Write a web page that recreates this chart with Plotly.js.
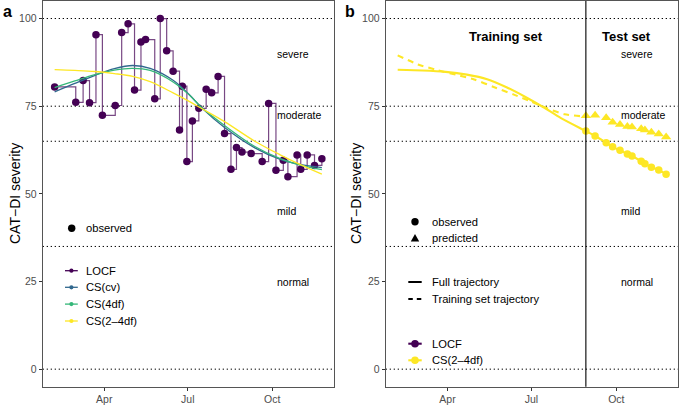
<!DOCTYPE html>
<html>
<head>
<meta charset="utf-8">
<script src="https://cdn.plot.ly/plotly-3.0.1.min.js"></script>
<style>html,body{margin:0;padding:0;background:#fff;}#chart{width:691px;height:406px;}</style>
</head>
<body>
<div id="chart"></div>
<script>
// ---------- data ----------
const obsDates = ['2019-02-06','2019-03-01','2019-03-09','2019-03-16','2019-03-23','2019-03-30','2019-04-13','2019-04-20','2019-04-27','2019-05-04','2019-05-11','2019-05-16','2019-05-26','2019-06-01','2019-06-08','2019-06-15','2019-06-22','2019-06-25','2019-06-30','2019-07-06','2019-07-13','2019-07-21','2019-07-27','2019-08-03','2019-08-10','2019-08-17','2019-08-23','2019-08-29','2019-09-08','2019-09-20','2019-09-27','2019-10-05','2019-10-13','2019-10-18','2019-10-28','2019-11-01','2019-11-08','2019-11-16','2019-11-24'];
const locfValues = [80.5,76.1,82.3,76.0,95.4,72.4,75.2,96.0,98.5,79.6,93.3,94.0,77.1,100.0,90.8,85.0,68.2,80.7,59.2,70.8,74.4,79.8,78.8,83.5,67.2,57.0,63.2,61.9,61.5,59.2,75.8,56.7,59.6,54.9,61.1,57.0,61.1,58.1,60.0];

const splineDates = ['2019-02-06','2019-02-28','2019-03-22','2019-04-12','2019-05-02','2019-05-21','2019-06-15','2019-07-03','2019-07-17','2019-08-10','2019-09-12','2019-10-09','2019-10-31','2019-11-24'];
const csCV   = [79.1,81.5,83.8,85.7,86.6,85.8,82.4,78.2,74.3,68.9,63.1,59.9,58.4,57.5];
const cs4df  = [80.3,82.2,84.0,85.3,85.8,85.2,81.9,78.1,74.4,69.5,63.5,60.1,58.2,56.9];
const cs24df = [85.4,85.2,84.9,84.3,83.5,82.0,78.8,76.3,74.2,70.6,65.0,61.2,58.4,55.6];

const fullDates  = ['2019-02-06','2019-03-05','2019-03-30','2019-04-22','2019-05-14','2019-06-04','2019-06-24','2019-07-14','2019-08-02','2019-08-29'];
const fullValues = [85.4,85.2,84.8,84.0,82.7,80.4,77.7,74.7,71.6,67.9];
const trainDates  = ['2019-02-06','2019-02-28','2019-03-21','2019-04-10','2019-04-30','2019-05-21','2019-06-12','2019-06-30','2019-07-18','2019-08-06','2019-08-29'];
const trainValues = [89.5,86.9,85.3,84.0,82.6,80.5,78.3,76.4,74.4,72.7,72.0];
const testDates = obsDates.slice(27);
const testObserved  = [67.9,66.5,64.6,63.4,62.4,61.4,60.8,59.3,58.6,57.6,56.8,55.6];
const testPredicted = [72.3,72.4,71.7,70.4,69.8,69.2,69.1,68.6,68.2,67.6,67.1,66.2];

const thresholds = [100,75,65,35,0];
const severityLabels = ['severe','moderate','mild','normal'];
const severityY = [90,72.5,45,25];
const severityX = '2019-10-04';

const xTickVals = ['2019-04-01','2019-07-01','2019-10-01'];
const xTickText = ['Apr','Jul','Oct'];
const yTickVals = [0,25,50,75,100];

const seriesNames = ['LOCF','CS(cv)','CS(4df)','CS(2–4df)'];
const seriesColors = ['#440154','#31688E','#35B779','#FDE725'];

// ---------- layout helpers ----------
const W = 691, H = 406;
const px = x => x / W;
const py = y => 1 - y / H;
const FONT = 'Liberation Sans, Arial, Helvetica, sans-serif';

const traces = [];
// Panel a
traces.push({x: obsDates, y: locfValues, xaxis:'x', yaxis:'y', mode:'lines', line:{shape:'hv', color:'rgba(68,1,84,0.72)', width:1.2}, hoverinfo:'skip'});
traces.push({x: obsDates, y: locfValues, xaxis:'x', yaxis:'y', mode:'markers', marker:{color:seriesColors[0], size:7.5}, hoverinfo:'skip'});
[csCV, cs4df, cs24df].forEach((vals, i) => {
  traces.push({x: splineDates, y: vals, xaxis:'x', yaxis:'y', mode:'lines', line:{shape:'spline', smoothing:1, color:seriesColors[i+1], width:1.3}, hoverinfo:'skip'});
});
// Panel b
traces.push({x: fullDates.concat(testDates.slice(1)), y: fullValues.concat(testObserved.slice(1)), xaxis:'x2', yaxis:'y2', mode:'lines', line:{shape:'spline', smoothing:0.6, color:seriesColors[3], width:2.1}, hoverinfo:'skip'});
traces.push({x: trainDates, y: trainValues, xaxis:'x2', yaxis:'y2', mode:'lines', line:{shape:'spline', smoothing:0.6, color:seriesColors[3], width:2.1, dash:'6px,5px'}, hoverinfo:'skip'});
traces.push({x: testDates, y: testObserved, xaxis:'x2', yaxis:'y2', mode:'markers', marker:{color:seriesColors[3], size:7.5, symbol:'circle'}, hoverinfo:'skip'});
traces.push({x: testDates, y: testPredicted, xaxis:'x2', yaxis:'y2', mode:'markers', marker:{color:seriesColors[3], size:9, symbol:'triangle-up'}, hoverinfo:'skip'});

const xRange = ['2019-01-24', '2019-12-07 05:00'];
function xAxis(domain, anchor){
  return {domain, anchor, type:'date', range:xRange, tickvals:xTickVals, ticktext:xTickText,
    ticks:'outside', ticklen:3, tickwidth:1, tickcolor:'#333', tickfont:{family:FONT, size:10.5, color:'#4d4d4d'},
    showline:true, mirror:true, linecolor:'#555', linewidth:1, showgrid:false, zeroline:false, automargin:false, fixedrange:true};
}
function yAxis(domain, anchor){
  return {domain, anchor, range:[-5,105], tickvals:yTickVals, ticks:'outside', ticklen:3, tickwidth:1, tickcolor:'#333',
    tickfont:{family:FONT, size:10.5, color:'#4d4d4d'}, showline:true, mirror:true, linecolor:'#555', linewidth:1,
    showgrid:false, zeroline:false, automargin:false, fixedrange:true};
}

const shapes = [];
[['x domain','y'],['x2 domain','y2']].forEach(([xr, yr]) => {
  thresholds.forEach(t => shapes.push({type:'line', xref:xr, yref:yr, x0:0, x1:1, y0:t, y1:t, layer:'below', line:{color:'#000', width:1, dash:'1.3px,2.7px'}}));
});
shapes.push({type:'line', xref:'x2', yref:'y2 domain', x0:testDates[0], x1:testDates[0], y0:0, y1:1, line:{color:'#000', width:1.1}});

const annotations = [];
function txt(text, x, y, opts){
  annotations.push(Object.assign({text, x:px(x), y:py(y), xref:'paper', yref:'paper', showarrow:false, xanchor:'left', yanchor:'middle', font:{family:FONT, size:11.2, color:'#000'}}, opts||{}));
}
function dot(cx, cy, r, color){
  shapes.push({type:'circle', xref:'paper', yref:'paper', x0:px(cx-r), x1:px(cx+r), y0:py(cy+r), y1:py(cy-r), fillcolor:color, line:{width:0}});
}
function seg(x0, x1, y, color, width, dash){
  shapes.push({type:'line', xref:'paper', yref:'paper', x0:px(x0), x1:px(x1), y0:py(y), y1:py(y), line:{color, width, dash:dash||'solid'}});
}

// severity labels
[['x','y'],['x2','y2']].forEach(([xr, yr]) => {
  severityLabels.forEach((lab, i) => annotations.push({text:lab, x:severityX, y:severityY[i], xref:xr, yref:yr, showarrow:false, xanchor:'left', yanchor:'middle', font:{family:FONT, size:10.5, color:'#000'}}));
});
// panel titles, y-axis titles
txt('<b>a</b>', 8, 12, {xanchor:'center', font:{family:FONT, size:16, color:'#000'}});
txt('<b>b</b>', 350, 12, {xanchor:'center', font:{family:FONT, size:16, color:'#000'}});
txt('CAT−DI severity', 15, 194, {xanchor:'center', textangle:-90, font:{family:FONT, size:14, color:'#000'}});
txt('CAT−DI severity', 356, 194, {xanchor:'center', textangle:-90, font:{family:FONT, size:14, color:'#000'}});
annotations.push({text:'<b>Training set</b>', x:'2019-06-03', y:95, xref:'x2', yref:'y2', showarrow:false, xanchor:'center', yanchor:'middle', font:{family:FONT, size:13, color:'#000'}});
annotations.push({text:'<b>Test set</b>', x:'2019-10-12', y:95, xref:'x2', yref:'y2', showarrow:false, xanchor:'center', yanchor:'middle', font:{family:FONT, size:13, color:'#000'}});

// legend panel a
dot(71.7, 228.3, 3.7, '#000');
txt('observed', 84, 228.3);
const legAy = [270.7, 287.3, 304.1, 321];
seriesNames.forEach((n, i) => {
  seg(65, 77.8, legAy[i], seriesColors[i], 1.3);
  dot(71.4, legAy[i], 2.1, seriesColors[i]);
  txt(n, 84, legAy[i]);
});

// legend panel b
dot(415, 221.7, 3.7, '#000');
txt('observed', 430, 221.7);
shapes.push({type:'path', xref:'paper', yref:'paper', path:`M ${px(410.8)},${py(241.5)} L ${px(419.2)},${py(241.5)} L ${px(415)},${py(234)} Z`, fillcolor:'#000', line:{width:0}});
txt('predicted', 430, 238);
seg(408.3, 421.7, 282, '#000', 2);
txt('Full trajectory', 430, 282);
seg(408.3, 412.8, 299, '#000', 2);
seg(416.8, 421.3, 299, '#000', 2);
txt('Training set trajectory', 430, 299);
[[0, 343.7],[3, 360.3]].forEach(([ci, y]) => {
  seg(408.3, 421.7, y, seriesColors[ci], 2.1);
  dot(415, y, 3.8, seriesColors[ci]);
  txt(seriesNames[ci], 430, y);
});

const layout = {
  width: W, height: H, margin:{l:0, r:0, t:0, b:0}, paper_bgcolor:'#fff', plot_bgcolor:'#fff', showlegend:false,
  font:{family:FONT},
  xaxis: xAxis([px(42.7), px(334)], 'y'),
  yaxis: yAxis([1-386.7/H, 1-1/H], 'x'),
  xaxis2: xAxis([px(385.7), px(678.3)], 'y2'),
  yaxis2: yAxis([1-386.7/H, 1-1/H], 'x2'),
  shapes, annotations
};
Plotly.newPlot('chart', traces, layout, {displayModeBar:false, staticPlot:true});
</script>
</body>
</html>
